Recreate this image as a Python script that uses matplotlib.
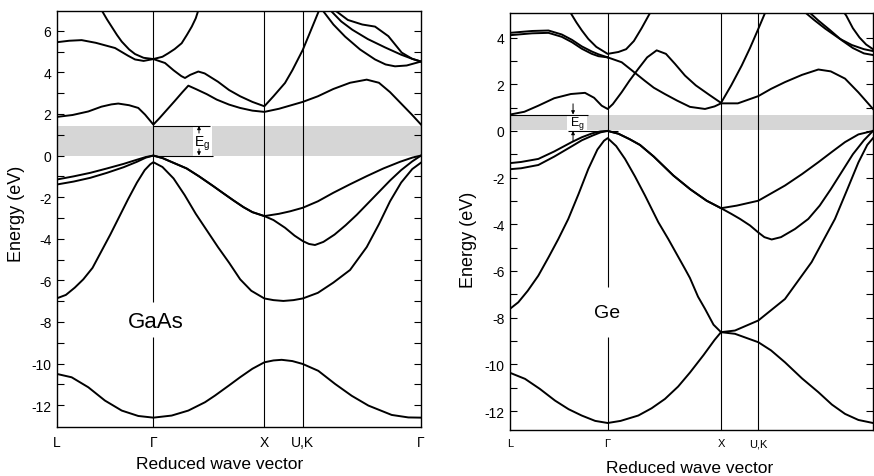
import matplotlib
matplotlib.use("Agg")
import matplotlib.pyplot as plt

plt.rcParams['font.family'] = ['Liberation Sans', 'DejaVu Sans']
plt.rcParams['axes.unicode_minus'] = False

# ---------------- GaAs data ----------------
gaas_kpos = [0.0, 0.868, 1.868, 2.214, 3.279]
gaas_klabels = ["L", "Γ", "X", "U,K", "Γ"]
gaas_ylim = (-13.05, 6.95)
gaas_gap = 1.43

gaas_b1_k = [0, 0.132, 0.282, 0.432, 0.583, 0.732, 0.868, 1.033, 1.183, 1.333, 1.423, 1.55, 1.649, 1.76, 1.868, 1.95, 2.024, 2.12, 2.214, 2.354, 2.505, 2.655, 2.805, 3.015, 3.165, 3.279]
gaas_b1_E = [-10.5, -10.66, -11.14, -11.78, -12.26, -12.52, -12.6, -12.5, -12.26, -11.86, -11.54, -11.05, -10.66, -10.25, -9.94, -9.85, -9.82, -9.88, -10.02, -10.35, -10.98, -11.55, -12.02, -12.47, -12.59, -12.6]

gaas_b2_k = [0, 0.08, 0.16, 0.237, 0.32, 0.4, 0.48, 0.56, 0.64, 0.72, 0.79, 0.84, 0.868, 0.95, 1.05, 1.15, 1.25, 1.35, 1.45, 1.55, 1.65, 1.75, 1.868, 1.95, 2.039, 2.13, 2.214, 2.35, 2.489, 2.64, 2.79, 2.9, 3.0, 3.1, 3.2, 3.279]
gaas_b2_E = [-6.86, -6.7, -6.35, -5.95, -5.4, -4.6, -3.8, -2.95, -2.1, -1.3, -0.7, -0.42, -0.32, -0.55, -1.1, -1.9, -2.8, -3.6, -4.4, -5.15, -5.95, -6.5, -6.87, -6.95, -6.99, -6.95, -6.87, -6.6, -6.11, -5.5, -4.4, -3.3, -2.2, -1.3, -0.65, -0.34]

gaas_b3_k = [0, 0.15, 0.3, 0.45, 0.6, 0.72, 0.8, 0.868, 0.95, 1.05, 1.168, 1.28, 1.408, 1.5, 1.588, 1.68, 1.76, 1.868, 2.0, 2.1, 2.214, 2.35, 2.489, 2.64, 2.79, 2.94, 3.09, 3.2, 3.279]
gaas_b3_E = [-1.15, -1.0, -0.83, -0.62, -0.4, -0.2, -0.07, 0, -0.12, -0.35, -0.62, -1.0, -1.47, -1.82, -2.15, -2.48, -2.72, -2.91, -2.8, -2.68, -2.51, -2.2, -1.79, -1.38, -0.99, -0.62, -0.3, -0.1, 0]

gaas_b4_k = [0, 0.15, 0.3, 0.45, 0.6, 0.72, 0.8, 0.868, 0.95, 1.05, 1.168, 1.28, 1.408, 1.5, 1.588, 1.68, 1.76, 1.868, 1.95, 2.054, 2.14, 2.214, 2.27, 2.324, 2.4, 2.5, 2.6, 2.7, 2.8, 2.9, 3.0, 3.1, 3.2, 3.279]
gaas_b4_E = [-1.39, -1.25, -1.07, -0.83, -0.56, -0.3, -0.1, 0, -0.12, -0.35, -0.62, -1.0, -1.47, -1.82, -2.15, -2.48, -2.72, -2.91, -3.1, -3.47, -3.85, -4.11, -4.25, -4.3, -4.15, -3.8, -3.35, -2.85, -2.3, -1.75, -1.2, -0.7, -0.28, 0]

gaas_b5_k = [0, 0.14, 0.282, 0.4, 0.49, 0.552, 0.65, 0.732, 0.793, 0.868, 0.92, 0.99, 1.06, 1.13, 1.183, 1.25, 1.35, 1.439, 1.55, 1.649, 1.76, 1.868, 2.0, 2.214, 2.35, 2.489, 2.64, 2.79, 2.9, 3.0, 3.1, 3.2, 3.279]
gaas_b5_E = [1.86, 1.95, 2.12, 2.35, 2.46, 2.5, 2.42, 2.29, 1.97, 1.49, 1.78, 2.2, 2.62, 3.05, 3.36, 3.2, 2.95, 2.69, 2.45, 2.29, 2.16, 2.1, 2.25, 2.58, 2.85, 3.2, 3.5, 3.65, 3.5, 3.05, 2.5, 1.95, 1.49]

gaas_b6_k = [0, 0.11, 0.222, 0.35, 0.523, 0.64, 0.703, 0.78, 0.868, 0.973, 1.05, 1.12, 1.153, 1.2, 1.273, 1.33, 1.45, 1.55, 1.65, 1.76, 1.868, 1.95, 2.054, 2.12, 2.214, 2.27, 2.324, 2.37]
gaas_b6_E = [5.45, 5.52, 5.55, 5.42, 5.17, 4.8, 4.62, 4.55, 4.64, 4.45, 4.1, 3.82, 3.73, 3.88, 4.04, 3.95, 3.55, 3.15, 2.85, 2.58, 2.37, 2.85, 3.49, 4.1, 5.08, 5.8, 6.5, 7.1]

gaas_b7_k = [0.39, 0.45, 0.492, 0.54, 0.583, 0.65, 0.703, 0.78, 0.868, 0.95, 1.003, 1.06, 1.123, 1.17, 1.214, 1.25, 1.28]
gaas_b7_E = [7.1, 6.55, 6.2, 5.8, 5.48, 5.1, 4.88, 4.7, 4.64, 4.75, 4.92, 5.12, 5.4, 5.8, 6.2, 6.6, 7.1]

gaas_b8_k = [2.39, 2.49, 2.595, 2.73, 2.865, 2.96, 3.045, 3.15, 3.279]
gaas_b8_E = [7.0, 6.3, 5.72, 5.1, 4.62, 4.38, 4.29, 4.33, 4.52]

gaas_b9_k = [2.46, 2.56, 2.66, 2.8, 2.955, 3.1, 3.2, 3.279]
gaas_b9_E = [7.0, 6.45, 6.05, 5.6, 5.2, 4.85, 4.65, 4.52]

gaas_b10_k = [2.5, 2.62, 2.75, 2.865, 2.985, 3.105, 3.2, 3.279]
gaas_b10_E = [7.0, 6.52, 6.3, 6.2, 5.74, 4.95, 4.65, 4.52]

# ---------------- Ge data ----------------
ge_kpos = [0.0, 0.883, 1.908, 2.245, 3.282]
ge_klabels = ["L", "Γ", "X", "U,K"]
ge_ylim = (-12.81, 5.05)
ge_gap = 0.70

ge_b1_k = [0, 0.136, 0.27, 0.407, 0.53, 0.648, 0.77, 0.883, 1.0, 1.16, 1.28, 1.401, 1.52, 1.627, 1.75, 1.85, 1.908, 2.034, 2.245, 2.36, 2.486, 2.64, 2.788, 2.91, 3.029, 3.15, 3.282]
ge_b1_E = [-10.36, -10.62, -11.05, -11.55, -11.92, -12.19, -12.42, -12.51, -12.42, -12.19, -11.88, -11.48, -10.95, -10.35, -9.6, -8.95, -8.62, -8.69, -9.05, -9.4, -9.91, -10.6, -11.19, -11.72, -12.12, -12.38, -12.51]

ge_b2_k = [0, 0.075, 0.16, 0.256, 0.35, 0.437, 0.527, 0.62, 0.708, 0.79, 0.85, 0.883, 0.96, 1.04, 1.13, 1.221, 1.341, 1.431, 1.51, 1.582, 1.627, 1.7, 1.763, 1.84, 1.908, 2.034, 2.245, 2.486, 2.727, 2.938, 3.05, 3.15, 3.23, 3.282]
ge_b2_E = [-7.62, -7.34, -6.85, -6.2, -5.4, -4.63, -3.77, -2.7, -1.63, -0.8, -0.42, -0.31, -0.65, -1.2, -1.95, -2.77, -3.91, -4.63, -5.3, -5.91, -6.3, -7.1, -7.62, -8.3, -8.62, -8.55, -8.12, -7.2, -5.62, -3.77, -2.5, -1.35, -0.6, -0.31]

ge_b3_k = [0, 0.1, 0.256, 0.4, 0.558, 0.65, 0.746, 0.82, 0.883, 0.98, 1.08, 1.175, 1.3, 1.477, 1.63, 1.778, 1.908, 2.05, 2.245, 2.486, 2.64, 2.788, 2.91, 3.029, 3.15, 3.282]
ge_b3_E = [-1.38, -1.33, -1.2, -0.88, -0.48, -0.27, -0.1, -0.02, 0, -0.12, -0.35, -0.6, -1.1, -1.91, -2.5, -2.99, -3.31, -3.2, -2.99, -2.34, -1.85, -1.34, -0.9, -0.48, -0.15, 0]

ge_b4_k = [0, 0.1, 0.256, 0.4, 0.558, 0.65, 0.746, 0.82, 0.883, 0.98, 1.08, 1.175, 1.3, 1.477, 1.63, 1.778, 1.908, 2.0, 2.08, 2.17, 2.245, 2.3, 2.366, 2.45, 2.577, 2.697, 2.8, 2.9, 3.0, 3.1, 3.2, 3.282]
ge_b4_E = [-1.64, -1.6, -1.46, -1.1, -0.66, -0.4, -0.2, -0.06, 0, -0.12, -0.35, -0.6, -1.1, -1.91, -2.5, -2.99, -3.31, -3.55, -3.77, -4.05, -4.35, -4.55, -4.65, -4.55, -4.2, -3.77, -3.2, -2.5, -1.75, -1.0, -0.4, 0]

ge_b5_k = [0, 0.13, 0.256, 0.4, 0.55, 0.678, 0.76, 0.829, 0.883, 0.93, 1.01, 1.08, 1.16, 1.24, 1.326, 1.41, 1.492, 1.582, 1.68, 1.8, 1.908, 2.0, 2.095, 2.17, 2.245, 2.321]
ge_b5_E = [0.7, 0.82, 1.08, 1.4, 1.58, 1.63, 1.42, 1.08, 0.94, 1.15, 1.66, 2.15, 2.66, 3.15, 3.45, 3.3, 2.87, 2.37, 1.95, 1.55, 1.2, 1.95, 2.8, 3.55, 4.37, 5.22]

ge_b6_k = [0.883, 1.01, 1.1, 1.218, 1.3, 1.4, 1.51, 1.627, 1.763, 1.85, 1.908, 2.06, 2.245, 2.36, 2.486, 2.64, 2.788, 2.9, 3.029, 3.15, 3.282]
ge_b6_E = [3.15, 2.94, 2.6, 2.15, 1.85, 1.58, 1.3, 1.03, 0.94, 1.05, 1.18, 1.18, 1.49, 1.8, 2.09, 2.4, 2.63, 2.55, 2.24, 1.65, 0.94]

ge_b7_k = [0, 0.2, 0.348, 0.468, 0.56, 0.649, 0.74, 0.8, 0.883]
ge_b7_E = [4.2, 4.28, 4.3, 4.13, 3.9, 3.62, 3.4, 3.28, 3.15]

ge_b8_k = [0, 0.2, 0.348, 0.468, 0.56, 0.649, 0.74, 0.8, 0.883]
ge_b8_E = [4.1, 4.18, 4.2, 4.03, 3.8, 3.52, 3.3, 3.2, 3.15]

ge_b9_k = [0.5, 0.527, 0.6, 0.65, 0.708, 0.78, 0.883, 0.98, 1.05, 1.12, 1.19, 1.26, 1.3]
ge_b9_E = [5.4, 5.22, 4.65, 4.3, 3.94, 3.6, 3.3, 3.38, 3.5, 3.85, 4.4, 5.0, 5.3]

ge_b10_k = [2.65, 2.75, 2.85, 2.98, 3.09, 3.2, 3.282]
ge_b10_E = [5.15, 4.75, 4.38, 3.95, 3.68, 3.5, 3.42]

ge_b11_k = [2.69, 2.79, 2.89, 3.0, 3.1, 3.2, 3.282]
ge_b11_E = [5.15, 4.72, 4.33, 3.88, 3.55, 3.32, 3.25]

ge_b12_k = [3.0, 3.04, 3.1, 3.16, 3.22, 3.282]
ge_b12_E = [5.2, 4.94, 4.4, 4.0, 3.7, 3.5]

gaas_bands = [(gaas_b1_k, gaas_b1_E), (gaas_b2_k, gaas_b2_E), (gaas_b3_k, gaas_b3_E),
              (gaas_b4_k, gaas_b4_E), (gaas_b5_k, gaas_b5_E), (gaas_b6_k, gaas_b6_E),
              (gaas_b7_k, gaas_b7_E), (gaas_b8_k, gaas_b8_E), (gaas_b9_k, gaas_b9_E),
              (gaas_b10_k, gaas_b10_E)]
ge_bands = [(ge_b1_k, ge_b1_E), (ge_b2_k, ge_b2_E), (ge_b3_k, ge_b3_E), (ge_b4_k, ge_b4_E),
            (ge_b5_k, ge_b5_E), (ge_b6_k, ge_b6_E), (ge_b7_k, ge_b7_E), (ge_b8_k, ge_b8_E),
            (ge_b9_k, ge_b9_E), (ge_b10_k, ge_b10_E), (ge_b11_k, ge_b11_E), (ge_b12_k, ge_b12_E)]

W, H = 874, 477
fig = plt.figure(figsize=(W / 100, H / 100), dpi=100)
ax1 = fig.add_axes([57 / W, 49 / H, 364 / W, 416 / H])
ax2 = fig.add_axes([510 / W, 46 / H, 363 / W, 417 / H])

BAND_LW = 1.4
VLINE_LW = 0.8
SHADE = '#d6d6d6'


def style_axes(ax, kpos, klabels, ylim, major, minor, xlab_size):
    ax.set_xlim(kpos[0], kpos[-1])
    ax.set_ylim(*ylim)
    ax.set_xticks(kpos[:len(klabels)])
    ax.set_xticklabels(klabels)
    ax.set_yticks(major)
    ax.set_yticks(minor, minor=True)
    ax.tick_params(axis='y', which='both', direction='in', left=True, right=True,
                   length=5, width=0.8, labelsize=10, pad=4)
    ax.tick_params(axis='x', length=0, labelsize=xlab_size, pad=6)
    for s in ax.spines.values():
        s.set_linewidth(1.0)


# ---------------- GaAs panel ----------------
ax = ax1
style_axes(ax, gaas_kpos, gaas_klabels, gaas_ylim, list(range(-12, 7, 2)),
           list(range(-11, 7, 2)), 10)
ax.axhspan(0, gaas_gap, color=SHADE, lw=0, zorder=0)
# symmetry lines (Gamma line broken behind the label)
ax.vlines(gaas_kpos[1], gaas_ylim[0], -8.73, color='k', lw=VLINE_LW, zorder=1)
ax.vlines(gaas_kpos[1], -7.04, gaas_ylim[1], color='k', lw=VLINE_LW, zorder=1)
for kp in gaas_kpos[2:4]:
    ax.axvline(kp, color='k', lw=VLINE_LW, zorder=1)
for k, E in gaas_bands:
    ax.plot(k, E, color='k', lw=BAND_LW, solid_joinstyle='round', zorder=3)
# Eg annotation
ax.fill_between([1.225, 1.396], 0, gaas_gap, color='white', lw=0, zorder=1.5)
ax.hlines([gaas_gap], gaas_kpos[1], 1.378, color='k', lw=0.8, zorder=2)
ax.hlines([0], gaas_kpos[1], 1.405, color='k', lw=0.8, zorder=2)
ax.annotate('', xy=(1.279, gaas_gap), xytext=(1.279, 1.08),
            arrowprops=dict(arrowstyle='-|>', lw=0.7, color='k', mutation_scale=5,
                            shrinkA=0, shrinkB=0))
ax.annotate('', xy=(1.279, 0), xytext=(1.279, 0.32),
            arrowprops=dict(arrowstyle='-|>', lw=0.7, color='k', mutation_scale=5,
                            shrinkA=0, shrinkB=0))
ax.text(1.31, 0.62, r'E$_\mathregular{g}$', fontsize=10, ha='center', va='center', zorder=4)
ax.text(0.892, -7.96, 'GaAs', fontsize=16, ha='center', va='center', zorder=4)
ax.set_ylabel('Energy (eV)', fontsize=13)
ax.yaxis.set_label_coords(-0.088, 0.514)
ax.set_xlabel('Reduced wave vector', fontsize=12.5)
ax.xaxis.set_label_coords(0.448, -0.069)

# ---------------- Ge panel ----------------
ax = ax2
style_axes(ax, ge_kpos, ge_klabels, ge_ylim, list(range(-12, 5, 2)),
           list(range(-11, 5, 2)), 8)
ax.axhspan(0.03, ge_gap, color=SHADE, lw=0, zorder=0)
ax.vlines(ge_kpos[1], ge_ylim[0], -8.82, color='k', lw=VLINE_LW, zorder=1)
ax.vlines(ge_kpos[1], -6.68, ge_ylim[1], color='k', lw=VLINE_LW, zorder=1)
for kp in ge_kpos[2:4]:
    ax.axvline(kp, color='k', lw=VLINE_LW, zorder=1)
for k, E in ge_bands:
    ax.plot(k, E, color='k', lw=BAND_LW, solid_joinstyle='round', zorder=3)
ax.fill_between([0.512, 0.693], 0.03, ge_gap, color='white', lw=0, zorder=1.5)
ax.hlines([ge_gap], 0, 0.705, color='k', lw=0.8, zorder=2)
ax.hlines([0], 0.524, 0.976, color='k', lw=0.8, zorder=2)
ax.annotate('', xy=(0.57, ge_gap), xytext=(0.57, 1.16),
            arrowprops=dict(arrowstyle='-|>', lw=0.7, color='k', mutation_scale=5,
                            shrinkA=0, shrinkB=0))
ax.annotate('', xy=(0.57, 0), xytext=(0.57, -0.46),
            arrowprops=dict(arrowstyle='-|>', lw=0.7, color='k', mutation_scale=5,
                            shrinkA=0, shrinkB=0))
ax.text(0.606, 0.36, r'E$_\mathregular{g}$', fontsize=9, ha='center', va='center', zorder=4)
ax.text(0.877, -7.79, 'Ge', fontsize=14, ha='center', va='center', zorder=4)
ax.set_ylabel('Energy (eV)', fontsize=13)
ax.yaxis.set_label_coords(-0.091, 0.458)
ax.set_xlabel('Reduced wave vector', fontsize=12.5)
ax.xaxis.set_label_coords(0.4945, -0.072)

fig.savefig('out.png', dpi=100)
